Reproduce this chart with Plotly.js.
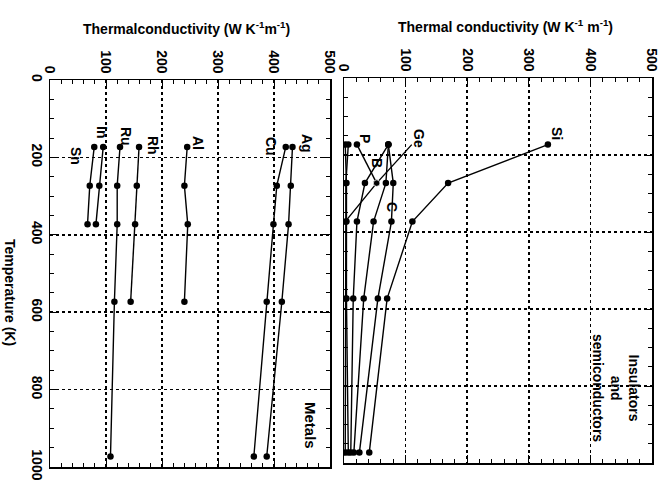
<!DOCTYPE html>
<html>
<head>
<meta charset="utf-8">
<script src="https://cdn.plot.ly/plotly-3.0.1.min.js"></script>
<style>html,body{margin:0;padding:0;background:#fff;}#chart{width:667px;height:495px;}</style>
</head>
<body>
<div id="chart"></div>
<script>
// Temperatures (K) at which values are tabulated
const temps = [173, 273, 373, 573, 973];

// Metals (W K^-1 m^-1)
const Ag = [433, 430, 426, 414, 387];
const Cu = [421, 405, 399, 387, 364];
const Al = [245, 240, 246, 240];
const Rh = [159, 155, 152, 144];
const Ru = [125, 120, 120, 115, 108];
const In = [95, 88, 82];
const Sn = [79, 71, 67];

// Insulators and semiconductors (W K^-1 m^-1)
const Si = [331, 169, 111, 70, 41];
const C  = [72, 80, 77, 55, 25];
const X  = [72, 68, 48, 32, 16];
const B  = [72, 34, 21, 15, 11];
const P  = [21, 53];
const Ge = [110, 53, 2];
const Z1 = [2, 4, 4, 4, 7];
const Z2 = [7, 3, 3, 3, 2];

const metalLabels = ['Ag', 'Cu', 'Al', 'Rh', 'Ru', 'In', 'Sn'];
const semiLabels = ['Si', 'Ge', 'P', 'B', 'C'];

const W = 667, H = 495;
const ML = 50, MR = 15, MT = 78, MB = 28;
const PW = W - ML - MR, PH = H - MT - MB;
const FONT = 'Liberation Sans, Arial, Helvetica, sans-serif';

function tr(vals, xa, ya, msize) {
  return {
    x: vals, y: temps.slice(0, vals.length),
    xaxis: xa, yaxis: ya, type: 'scatter', mode: 'lines+markers',
    line: {color: '#000', width: 1.4},
    marker: {color: '#000', size: msize || 6.5},
    showlegend: false, hoverinfo: 'skip'
  };
}

const data = [
  tr(Ag, 'x', 'y'), tr(Cu, 'x', 'y'), tr(Al, 'x', 'y'), tr(Rh, 'x', 'y'),
  tr(Ru, 'x', 'y'), tr(In, 'x', 'y'), tr(Sn, 'x', 'y'),
  tr(Si, 'x2', 'y2'), tr(C, 'x2', 'y2'), tr(X, 'x2', 'y2'), tr(B, 'x2', 'y2'),
  tr(P, 'x2', 'y2'), tr(Ge, 'x2', 'y2', [0, 6.5, 6.5]), tr(Z1, 'x2', 'y2'), tr(Z2, 'x2', 'y2')
];

const tickFont = {family: FONT, size: 14, color: '#000', weight: 'bold'};

function xax(domain, anchor) {
  return {
    domain: domain, anchor: anchor, side: 'top', range: [0, 500],
    dtick: 100, tickangle: 90,
    ticks: 'inside', ticklen: 8, tickwidth: 1, tickcolor: '#000',
    minor: {dtick: 20, ticks: 'inside', ticklen: 4, tickcolor: '#000'},
    showline: true, linecolor: '#000', linewidth: 1.5, mirror: 'allticks',
    showgrid: true, gridcolor: '#000', griddash: 'dot', gridwidth: 1.5,
    zeroline: false, tickfont: tickFont
  };
}
function yax(domain, anchor, labels) {
  return {
    domain: domain, anchor: anchor, range: [1000, 0],
    dtick: 200, tickangle: 90,
    showticklabels: labels,
    ticks: 'inside', ticklen: 8, tickwidth: 1, tickcolor: '#000',
    minor: {dtick: 50, ticks: 'inside', ticklen: 4, tickcolor: '#000'},
    showline: true, linecolor: '#000', linewidth: 1.5, mirror: 'allticks',
    showgrid: true, gridcolor: '#000', griddash: 'dot', gridwidth: 1.5,
    zeroline: false, tickfont: tickFont
  };
}

function ann(text, px, py, angle, size) {
  return {
    text: text, xref: 'paper', yref: 'paper', x: (px - ML) / PW, y: 1 - (py - MT) / PH,
    xanchor: 'center', yanchor: 'middle', showarrow: false, textangle: angle,
    font: {family: FONT, size: size, color: '#000', weight: 'bold'}
  };
}

const metalPos = [[307, 143], [271, 146], [198, 143], [153, 145], [126, 136], [102, 132], [76, 156]];
const semiPos = [[557, 133], [419, 138], [365, 138], [377, 163], [392, 207]];

const annotations = [
  ann('Thermalconductivity (W K<sup>-1</sup>m<sup>-1</sup>)', 186, 28, 0, 14),
  ann('Thermal conductivity (W K<sup>-1</sup> m<sup>-1</sup>)', 505, 26, 0, 14),
  ann('Temperature (K)', 10, 292, 90, 14),
  ann('Metals', 311, 425, 90, 15),
  ann('Insulators<br>and<br>semiconductors', 616, 388, 90, 14)
];
metalLabels.forEach((t, i) => annotations.push(ann(t, metalPos[i][0], metalPos[i][1], 90, 14)));
semiLabels.forEach((t, i) => annotations.push(ann(t, semiPos[i][0], semiPos[i][1], 90, 14)));

const layout = {
  width: W, height: H,
  margin: {l: ML, r: MR, t: MT, b: MB, autoexpand: false},
  paper_bgcolor: '#fff', plot_bgcolor: '#fff',
  showlegend: false,
  xaxis: xax([0, (330 - ML) / PW], 'y'),
  yaxis: yax([1 - (467 - MT) / PH, 1 - (80 - MT) / PH], 'x', true),
  xaxis2: xax([(344 - ML) / PW, 1], 'y2'),
  yaxis2: yax([1 - (463 - MT) / PH, 1], 'x2', false),
  annotations: annotations
};

Plotly.newPlot('chart', data, layout, {staticPlot: true});
</script>
</body>
</html>
